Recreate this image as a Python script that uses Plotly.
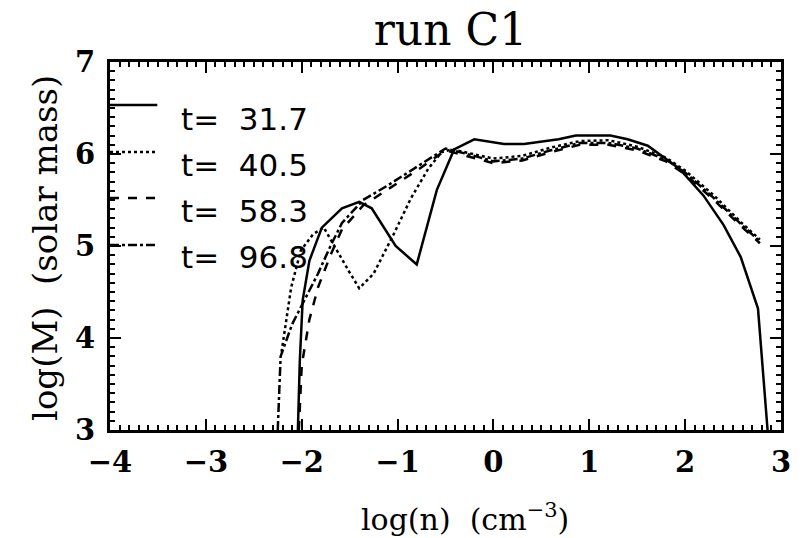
import plotly.graph_objects as go

# ---- data ----
labels = ["t=  31.7", "t=  40.5", "t=  58.3", "t=  96.8"]
dashes = ["solid", "dot", "dash", "dashdot"]

x_t317 = [-2.04, -2.02, -1.99, -1.92, -1.79, -1.58, -1.40, -1.27, -1.02, -0.80, -0.59, -0.41,
          -0.20, 0.11, 0.32, 0.68, 0.86, 1.22, 1.40, 1.61, 1.94, 2.19, 2.40, 2.58, 2.76, 2.86]
y_t317 = [3.00, 3.75, 4.41, 4.84, 5.20, 5.41, 5.48, 5.41, 5.00, 4.80, 5.61, 6.05,
          6.16, 6.11, 6.11, 6.16, 6.20, 6.20, 6.16, 6.09, 5.84, 5.55, 5.23, 4.88, 4.32, 3.00]

x_t405 = [-2.21, -2.11, -2.01, -1.88, -1.77, -1.65, -1.51, -1.40, -1.25, -1.04, -0.86, -0.68,
          -0.54, -0.43, -0.20, 0.00, 0.30, 0.60, 0.90, 1.20, 1.50, 1.80, 2.00, 2.30, 2.58, 2.78]
y_t405 = [3.85, 4.55, 4.95, 5.13, 5.20, 4.98, 4.73, 4.54, 4.70, 5.13, 5.52, 5.84,
          6.02, 6.05, 6.00, 5.95, 5.98, 6.07, 6.14, 6.15, 6.08, 5.96, 5.82, 5.55, 5.26, 5.07]

x_t583 = [-2.03, -2.00, -1.92, -1.83, -1.70, -1.58, -1.36, -1.10, -0.80, -0.50, -0.20, 0.00,
          0.30, 0.60, 0.90, 1.20, 1.50, 1.80, 2.00, 2.30, 2.58, 2.78]
y_t583 = [3.00, 3.70, 4.20, 4.55, 4.90, 5.18, 5.44, 5.62, 5.82, 6.04, 5.96, 5.90,
          5.93, 6.02, 6.10, 6.10, 6.04, 5.92, 5.78, 5.50, 5.22, 5.03]

x_t968 = [-2.25, -2.22, -2.10, -1.95, -1.83, -1.70, -1.58, -1.36, -1.10, -0.80, -0.50, -0.20,
          0.00, 0.30, 0.60, 0.90, 1.20, 1.50, 1.80, 2.00, 2.30, 2.58, 2.78]
y_t968 = [3.00, 3.80, 4.15, 4.45, 4.70, 5.00, 5.25, 5.50, 5.66, 5.86, 6.06, 5.98,
          5.92, 5.95, 6.04, 6.12, 6.12, 6.06, 5.94, 5.80, 5.52, 5.24, 5.05]

xs = [x_t317, x_t405, x_t583, x_t968]
ys = [y_t317, y_t405, y_t583, y_t968]

x_ticks = [-4, -3, -2, -1, 0, 1, 2, 3]
y_ticks = [3, 4, 5, 6, 7]

# ---- layout geometry ----
W, H = 803, 538
ML, MR, MT, MB = 110, 12, 62, 108
PW, PH = W - ML - MR, H - MT - MB

fig = go.Figure()
for x, y, name, d in zip(xs, ys, labels, dashes):
    fig.add_trace(go.Scatter(x=x, y=y, mode="lines", name=name,
                             line=dict(color="black", width=2.5, dash=d),
                             showlegend=False))

axis_common = dict(
    showline=True, linewidth=3, linecolor="black", mirror="allticks",
    ticks="inside", ticklen=11, tickwidth=2, tickcolor="black",
    showgrid=False, zeroline=False,
    minor=dict(ticks="inside", ticklen=5, tickwidth=1.5, tickcolor="black", dtick=0.1),
    tickfont=dict(family="DejaVu Serif", size=29, color="black", weight="bold"),
)

fig.update_xaxes(range=[-4, 3], tickvals=x_ticks,
                 ticktext=[str(v).replace("-", "\u2212") for v in x_ticks],
                 ticklabelstandoff=4, **axis_common)
fig.update_yaxes(range=[3, 7], tickvals=y_ticks, ticktext=[str(v) for v in y_ticks],
                 ticklabelstandoff=6, **axis_common)

# legend drawn IDL-style: short line keys at the left axis, text to the right
shapes = []
annotations = []
key_y_px = [105, 152, 198, 245]
txt_y_px = [119, 165, 211, 257]
for i, (name, d) in enumerate(zip(labels, dashes)):
    yk = (H - MB - key_y_px[i]) / PH
    shapes.append(dict(type="line", xref="paper", yref="paper",
                       x0=0, x1=(158 - ML) / PW, y0=yk, y1=yk,
                       line=dict(color="black", width=2.5, dash=d)))
    yt = (H - MB - txt_y_px[i]) / PH
    annotations.append(dict(text=name, xref="paper", yref="paper",
                            x=(180 - ML) / PW, y=yt, xanchor="left", yanchor="middle",
                            showarrow=False,
                            font=dict(family="DejaVu Sans", size=31, color="black")))

# axis titles
annotations.append(dict(text="log(n)  (cm<sup>\u22123</sup>)", xref="paper", yref="paper",
                        x=(470 - ML) / PW, y=(H - MB - 517) / PH,
                        xanchor="center", yanchor="middle", showarrow=False,
                        font=dict(family="DejaVu Serif", size=30, color="black")))
annotations.append(dict(text="log(M)  (solar mass)", xref="paper", yref="paper",
                        x=(44 - ML) / PW, y=(H - MB - 248) / PH, textangle=-90,
                        xanchor="center", yanchor="middle", showarrow=False,
                        font=dict(family="DejaVu Serif", size=34, color="black")))

fig.update_layout(
    width=W, height=H,
    margin=dict(l=ML, r=MR, t=MT, b=MB),
    paper_bgcolor="white", plot_bgcolor="white",
    title=dict(text="run C1", x=(ML + PW / 2) / W, xanchor="center",
               y=1 - 30 / H, yanchor="middle", yref="container",
               font=dict(family="DejaVu Serif", size=44, color="black")),
    shapes=shapes, annotations=annotations,
    showlegend=False,
)

fig.write_html("out.html")
